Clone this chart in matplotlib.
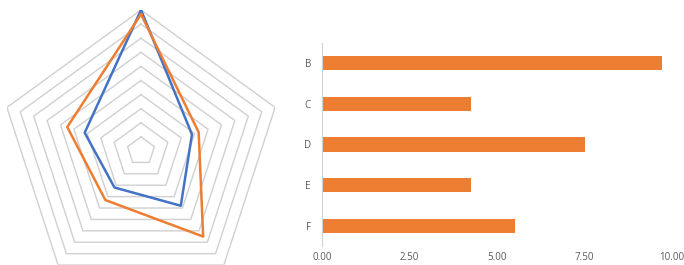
import numpy as np
import matplotlib
matplotlib.use("Agg")
import matplotlib.pyplot as plt

# radar data (clockwise from top)
axes_names = ["B", "C", "D", "E", "F"]
series_blue = [10.0, 3.8, 4.8, 3.2, 4.2]
series_orange = [9.7, 4.3, 7.5, 4.3, 5.5]

# bar data
bar_cats = ["B", "C", "D", "E", "F"]
bar_vals = [9.7, 4.25, 7.5, 4.25, 5.5]
xticks = [0, 2.5, 5, 7.5, 10]
xtick_labels = ["0.00", "2.50", "5.00", "7.50", "10.00"]

BLUE = "#4472C4"
ORANGE = "#ED7D31"
GRID = "#d0d0d0"
TXT = "#595959"

plt.rcParams["font.family"] = ["Open Sans", "DejaVu Sans"]

W, H = 684, 265
fig = plt.figure(figsize=(W / 100, H / 100), dpi=100)

# radar (polar axes, centre at px (141,151), radius 141)
cx, cy, R = 141, 151, 141
ax1 = fig.add_axes([(cx - R) / W, (H - cy - R) / H, 2 * R / W, 2 * R / H], polar=True)
ax1.set_theta_offset(np.pi / 2)
ax1.set_theta_direction(-1)
n = len(axes_names)
theta = np.linspace(0, 2 * np.pi, n, endpoint=False)
th_closed = np.append(theta, theta[0])
for lvl in range(1, 11):
    ax1.plot(th_closed, [lvl] * (n + 1), color=GRID, lw=1.0, zorder=1)
ax1.plot(th_closed, series_blue + series_blue[:1], color=BLUE, lw=1.8, zorder=3)
ax1.plot(th_closed, series_orange + series_orange[:1], color=ORANGE, lw=1.8, zorder=3)
ax1.set_ylim(0, 10)
ax1.set_xticks([])
ax1.set_yticks([])
ax1.grid(False)
ax1.spines["polar"].set_visible(False)
ax1.patch.set_alpha(0)

# bar chart
left, right, top, bottom = 322, 672, 43, 246
ax2 = fig.add_axes([left / W, (H - bottom) / H, (right - left) / W, (bottom - top) / H])
ypos = np.arange(len(bar_cats))
ax2.barh(ypos, bar_vals, height=0.35, color=ORANGE, zorder=2)
ax2.set_ylim(len(bar_cats) - 0.5, -0.5)
ax2.set_xlim(0, 10)
ax2.set_yticks(ypos)
ax2.set_yticklabels(bar_cats)
ax2.set_xticks(xticks)
ax2.set_xticklabels(xtick_labels)
for s in ["top", "right", "bottom"]:
    ax2.spines[s].set_visible(False)
ax2.spines["left"].set_color(GRID)
ax2.tick_params(axis="both", length=0, labelsize=7, colors=TXT)
ax2.tick_params(axis="x", pad=4)
ax2.tick_params(axis="y", pad=8)

fig.savefig("out.png", dpi=100)
